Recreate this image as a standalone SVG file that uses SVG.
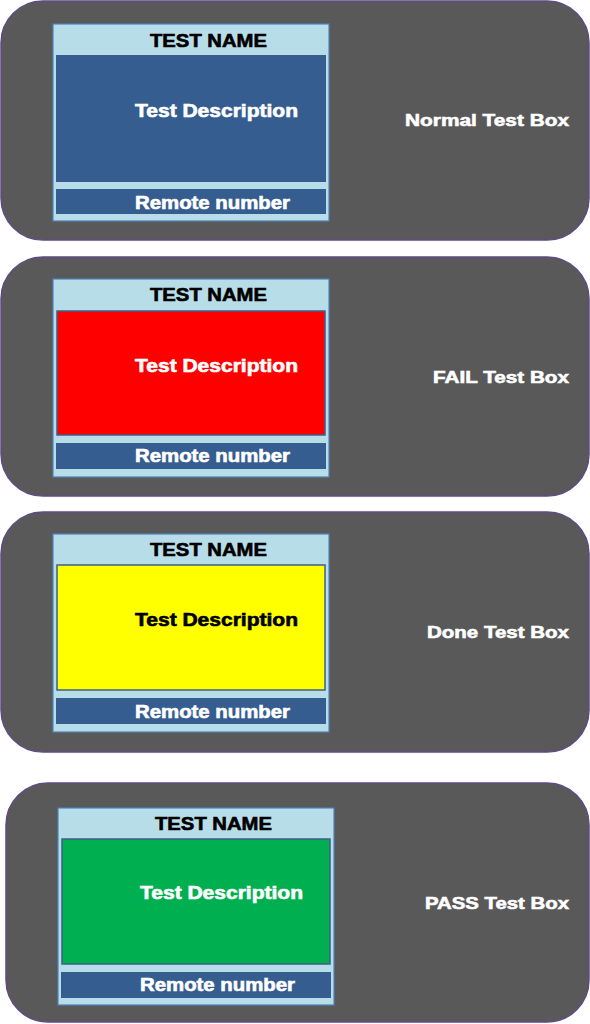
<svg xmlns="http://www.w3.org/2000/svg" width="590" height="1024" viewBox="0 0 590 1024">
<style>
.panel{fill:#595959;stroke:#5e4a86;stroke-width:1.5}
.box{fill:#b7dee8;stroke:#4f81bd;stroke-width:1.2}
.body{stroke:#3d5f8c;stroke-width:1.5}
.remote{fill:#355d90}
.t{font-family:"Liberation Sans",Arial,sans-serif;font-weight:bold;stroke-width:0.6px}
.name{font-size:18px;fill:#000;stroke:#000}
.desc{font-size:17.5px}
.w{fill:#fff;stroke:#fff}
.k{fill:#000;stroke:#000}
.rem{font-size:17.5px;fill:#fff;stroke:#fff}
.lbl{font-size:17px;fill:#fff;stroke:#fff;text-anchor:end}
</style>
<rect width="590" height="1024" fill="#fff"/>
<g id="normal">
<rect class="panel" x="1" y="1" width="588" height="239" rx="42"/>
<rect class="box" x="53" y="24" width="276" height="197"/>
<text class="t name" x="150" y="47" textLength="117" lengthAdjust="spacingAndGlyphs">TEST NAME</text>
<rect x="56" y="55" width="270" height="127" fill="#355d90"/>
<text class="t desc w" x="135" y="117" textLength="163" lengthAdjust="spacingAndGlyphs">Test Description</text>
<rect class="remote" x="56" y="189" width="270" height="25"/>
<text class="t rem" x="135" y="209" textLength="155" lengthAdjust="spacingAndGlyphs">Remote number</text>
<text class="t lbl" x="569" y="126" textLength="164" lengthAdjust="spacingAndGlyphs">Normal Test Box</text>
</g>
<g id="fail">
<rect class="panel" x="1" y="257" width="588" height="239" rx="42"/>
<rect class="box" x="53" y="279" width="276" height="198"/>
<text class="t name" x="150" y="301" textLength="117" lengthAdjust="spacingAndGlyphs">TEST NAME</text>
<rect class="body" x="57" y="311" width="268" height="124" fill="#ff0000"/>
<text class="t desc w" x="135" y="372" textLength="163" lengthAdjust="spacingAndGlyphs">Test Description</text>
<rect class="remote" x="56" y="443" width="270" height="26"/>
<text class="t rem" x="135" y="462" textLength="155" lengthAdjust="spacingAndGlyphs">Remote number</text>
<text class="t lbl" x="569" y="383" textLength="136" lengthAdjust="spacingAndGlyphs">FAIL Test Box</text>
</g>
<g id="done">
<rect class="panel" x="1" y="512" width="588" height="240" rx="42"/>
<rect class="box" x="53" y="534" width="276" height="198"/>
<text class="t name" x="150" y="556" textLength="117" lengthAdjust="spacingAndGlyphs">TEST NAME</text>
<rect class="body" x="57" y="565" width="268" height="125" fill="#ffff00"/>
<text class="t desc k" x="135" y="626" textLength="163" lengthAdjust="spacingAndGlyphs">Test Description</text>
<rect class="remote" x="56" y="698" width="270" height="26"/>
<text class="t rem" x="135" y="718" textLength="155" lengthAdjust="spacingAndGlyphs">Remote number</text>
<text class="t lbl" x="569" y="638" textLength="142" lengthAdjust="spacingAndGlyphs">Done Test Box</text>
</g>
<g id="pass">
<rect class="panel" x="6" y="783" width="583" height="239" rx="42"/>
<rect class="box" x="58" y="808" width="276" height="197"/>
<text class="t name" x="155" y="830" textLength="117" lengthAdjust="spacingAndGlyphs">TEST NAME</text>
<rect class="body" x="62" y="839" width="268" height="125" fill="#00b050"/>
<text class="t desc w" x="140" y="899" textLength="163" lengthAdjust="spacingAndGlyphs">Test Description</text>
<rect class="remote" x="61" y="972" width="270" height="26"/>
<text class="t rem" x="140" y="991" textLength="155" lengthAdjust="spacingAndGlyphs">Remote number</text>
<text class="t lbl" x="569" y="909" textLength="144" lengthAdjust="spacingAndGlyphs">PASS Test Box</text>
</g>
<g id="connectors"/>
</svg>
